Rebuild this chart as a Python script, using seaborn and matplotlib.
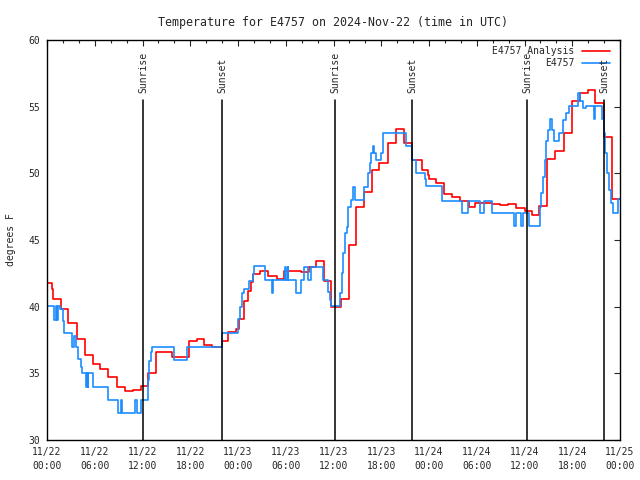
import numpy as np
import matplotlib
matplotlib.use("Agg")
import matplotlib.pyplot as plt
import seaborn as sns
from matplotlib.ticker import MultipleLocator
from matplotlib.lines import Line2D

# hours since 2024-11-22 00:00 UTC, value holds until the next change
analysis_hours = [0.00, 0.67, 0.79, 1.72, 2.68, 3.73, 4.78, 5.74, 6.70, 7.70,
                  8.76, 9.80, 10.77, 11.77, 12.65, 13.70, 15.67, 17.81, 18.81, 19.77,
                  20.73, 22.00, 22.78, 23.75, 24.07, 24.72, 25.22, 25.67, 25.89, 26.73,
                  27.71, 28.86, 29.82, 31.92, 32.88, 33.74, 34.77, 35.72, 36.91, 37.91,
                  38.83, 39.80, 40.80, 41.76, 42.81, 43.86, 44.82, 45.86, 47.08, 47.84,
                  48.00, 48.88, 49.85, 50.85, 51.94, 53.07, 53.78, 55.88, 56.96, 57.97,
                  58.97, 60.10, 60.90, 61.86, 62.83, 63.87, 64.93, 65.93, 66.98, 67.94,
                  68.90, 69.95, 70.96, 72.00]
analysis_temp = [41.75, 41.3, 40.6, 39.8, 38.8, 37.55, 36.4, 35.7, 35.3, 34.7,
                 34.0, 33.7, 33.75, 34.05, 35.0, 36.6, 36.25, 37.4, 37.6, 37.1,
                 37.0, 37.45, 38.1, 38.3, 39.1, 40.4, 41.2, 41.85, 42.45, 42.7,
                 42.3, 42.1, 42.7, 42.6, 43.0, 43.4, 41.95, 40.0, 40.6, 44.6,
                 47.45, 48.6, 50.25, 50.8, 52.25, 53.3, 52.3, 51.0, 50.25, 49.9,
                 49.55, 49.3, 48.45, 48.2, 47.9, 47.5, 47.75, 47.7, 47.65, 47.7,
                 47.4, 47.2, 46.9, 47.55, 51.05, 51.65, 53.0, 55.4, 56.0, 56.25,
                 55.25, 52.75, 48.05, 48.05]

obs_hours = [0.00, 0.94, 1.13, 1.26, 1.38, 1.63, 2.05, 2.17, 3.10, 3.43,
             3.61, 3.93, 4.27, 4.44, 4.96, 5.06, 5.13, 5.21, 5.82, 7.63,
             8.88, 9.30, 9.46, 11.06, 11.31, 11.77, 12.65, 12.82, 13.01, 13.19,
             15.92, 17.55, 21.99, 23.96, 24.19, 24.44, 24.72, 25.35, 25.89, 26.05,
             27.43, 28.27, 28.36, 29.91, 29.99, 30.22, 30.31, 31.29, 31.92, 32.33,
             32.83, 33.17, 34.68, 35.25, 35.50, 35.73, 36.82, 37.01, 37.23, 37.45,
             37.66, 37.86, 38.20, 38.49, 38.70, 39.80, 40.38, 40.59, 40.75, 40.93,
             41.13, 41.34, 41.97, 42.16, 42.26, 45.11, 45.87, 46.37, 47.54, 47.66,
             49.67, 52.15, 52.94, 54.45, 54.95, 55.88, 58.72, 58.93, 59.56, 59.78,
             60.61, 61.99, 62.11, 62.33, 62.54, 62.74, 62.92, 63.25, 63.42, 63.75,
             64.38, 64.80, 65.22, 65.63, 66.69, 66.98, 67.32, 67.73, 68.70, 68.86,
             69.70, 70.03, 70.16, 70.37, 70.61, 70.87, 71.09, 71.71, 72.00]
obs_temp = [40.05, 39.0, 40.05, 39.0, 40.05, 39.8, 38.95, 38.05, 36.95, 37.8,
            36.95, 36.05, 35.5, 35.0, 34.0, 35.0, 34.0, 35.0, 34.0, 33.0,
            32.0, 33.0, 32.0, 33.0, 32.0, 33.0, 34.5, 35.9, 36.6, 36.95,
            36.0, 36.95, 38.05, 39.1, 40.0, 41.0, 41.3, 41.95, 42.45, 43.05,
            42.0, 41.0, 42.0, 43.0, 42.0, 43.0, 42.0, 41.0, 42.0, 43.0,
            42.0, 43.0, 42.0, 41.1, 40.5, 40.05, 41.0, 42.5, 44.0, 45.5,
            46.0, 47.5, 48.0, 49.0, 48.0, 49.0, 50.0, 50.75, 51.5, 52.05,
            51.5, 51.0, 51.5, 52.05, 53.0, 52.05, 51.0, 50.0, 49.55, 49.05,
            47.95, 47.0, 47.95, 47.0, 47.95, 47.0, 46.05, 47.0, 46.05, 47.0,
            46.05, 47.5, 48.5, 49.75, 51.0, 52.45, 53.25, 54.05, 53.25, 52.4,
            53.0, 54.0, 54.5, 55.05, 56.0, 55.4, 54.9, 55.05, 54.1, 55.05,
            54.1, 53.0, 51.5, 50.0, 48.75, 47.75, 47.0, 48.05, 48.05]

sun_hours = [12.07, 22.0, 36.18, 45.87, 60.3, 70.0]
sun_labels = ["Sunrise", "Sunset", "Sunrise", "Sunset", "Sunrise", "Sunset"]

xtick_hours = list(range(0, 73, 6))
xtick_labels = ["11/22\n00:00", "11/22\n06:00", "11/22\n12:00", "11/22\n18:00",
                "11/23\n00:00", "11/23\n06:00", "11/23\n12:00", "11/23\n18:00",
                "11/24\n00:00", "11/24\n06:00", "11/24\n12:00", "11/24\n18:00",
                "11/25\n00:00"]

red = "#ff0000"
blue = "#1a8cff"

sns.set_style("white")
plt.rcParams["font.family"] = ["DejaVu Sans Mono"]
plt.rcParams["font.size"] = 7.0

fig = plt.figure(figsize=(6.4, 4.8), dpi=100)
ax = fig.add_axes([47 / 640, 40 / 480, 573 / 640, 400 / 480])

sns.lineplot(x=analysis_hours, y=analysis_temp, color=red, lw=1.2,
             drawstyle="steps-post", estimator=None, sort=False, ax=ax)
sns.lineplot(x=obs_hours, y=obs_temp, color=blue, lw=1.2,
             drawstyle="steps-post", estimator=None, sort=False, ax=ax)

# sunrise / sunset markers
for h, lab in zip(sun_hours, sun_labels):
    ax.plot([h, h], [30, 55.5], color="black", lw=1.1)
    ax.text(h, 56.0, lab, rotation=90, ha="center", va="bottom")

ax.set_xlim(0, 72)
ax.set_ylim(30, 60)
ax.set_xticks(xtick_hours)
ax.set_xticklabels(xtick_labels, linespacing=1.45)
ax.xaxis.set_minor_locator(MultipleLocator(2))
ax.set_yticks(range(30, 61, 5))
ax.tick_params(which="both", direction="in", top=True, right=True, width=0.8)
ax.tick_params(which="major", length=4.5)
ax.tick_params(axis="x", which="major", pad=5)
ax.tick_params(axis="y", which="major", pad=5)
ax.tick_params(which="minor", length=2.5)
for s in ax.spines.values():
    s.set_color("black")
    s.set_linewidth(1.0)

ax.set_ylabel("degrees F", labelpad=9)
ax.set_title("Temperature for E4757 on 2024-Nov-22 (time in UTC)", pad=10)

# gnuplot-style key, text right aligned before the sample line
key_rows = [("E4757 Analysis", red), ("E4757", blue)]
for i, (lab, col) in enumerate(key_rows):
    y = 0.973 - i * 0.03
    ax.text(0.921, y, lab, transform=ax.transAxes, ha="right", va="center")
    ax.add_line(Line2D([0.933, 0.982], [y, y], transform=ax.transAxes,
                       color=col, lw=1.2))

fig.savefig("out.png", dpi=100)
